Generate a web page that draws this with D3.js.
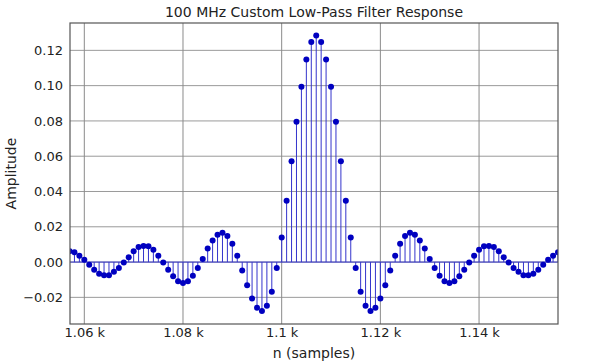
<!DOCTYPE html>
<html>
<head>
<meta charset="utf-8">
<script src="https://cdn.jsdelivr.net/npm/d3@7"></script>
<style>
  body { margin: 0; background: #fff; }
  svg text { font-family: "DejaVu Sans", sans-serif; fill: #222; }
</style>
</head>
<body>
<div id="chart"></div>
<script>
// sample index range and amplitudes
const nStart = 1057;
const amplitude = [
  0.0062, 0.0055, 0.0036, 0.0013, -0.0015, -0.0044, -0.0066, -0.0074, -0.0074, -0.0055,
  -0.0034, -0.0002, 0.0028, 0.0062, 0.0085, 0.0091, 0.0089, 0.0070, 0.0036, -0.0002,
  -0.0044, -0.0081, -0.0108, -0.0119, -0.0108, -0.0078, -0.0034, 0.0017, 0.0077, 0.0122,
  0.0155, 0.0166, 0.0148, 0.0104, 0.0036, -0.0048, -0.0132, -0.0206, -0.0259, -0.0278,
  -0.0248, -0.0168, -0.0034, 0.0139, 0.0347, 0.0572, 0.0795, 0.0993, 0.1148, 0.1248,
  0.1284, 0.1248, 0.1148, 0.0993, 0.0795, 0.0572, 0.0347, 0.0139, -0.0034, -0.0168,
  -0.0248, -0.0278, -0.0259, -0.0206, -0.0132, -0.0048, 0.0036, 0.0104, 0.0148, 0.0166,
  0.0155, 0.0122, 0.0077, 0.0017, -0.0034, -0.0078, -0.0108, -0.0119, -0.0108, -0.0081,
  -0.0044, -0.0002, 0.0036, 0.0070, 0.0089, 0.0091, 0.0085, 0.0062, 0.0028, -0.0002,
  -0.0034, -0.0055, -0.0074, -0.0074, -0.0066, -0.0044, -0.0015, 0.0013, 0.0036, 0.0055
];
const xTicks = [1060, 1080, 1100, 1120, 1140];
const xTickLabels = ['1.06 k', '1.08 k', '1.1 k', '1.12 k', '1.14 k'];
const yTicks = [-0.02, 0.00, 0.02, 0.04, 0.06, 0.08, 0.10, 0.12];

const data = amplitude.map((v, i) => ({ n: nStart + i, v: v }));

const width = 600;
const height = 362;
const margin = { top: 23, right: 42, bottom: 38, left: 70 };
const innerW = width - margin.left - margin.right;
const innerH = height - margin.top - margin.bottom;

const x = d3.scaleLinear().domain([1057.1, 1156]).range([0, innerW]);
const y = d3.scaleLinear().domain([-0.0351, 0.1355]).range([innerH, 0]);

const svg = d3.select('#chart')
  .append('svg')
  .attr('width', width)
  .attr('height', height);

svg.append('defs').append('clipPath')
  .attr('id', 'clip')
  .append('rect')
  .attr('width', innerW)
  .attr('height', innerH);

const g = svg.append('g')
  .attr('transform', `translate(${margin.left},${margin.top})`);

// grid
g.append('g')
  .selectAll('line')
  .data(yTicks)
  .enter()
  .append('line')
  .attr('x1', 0)
  .attr('x2', innerW)
  .attr('y1', d => y(d))
  .attr('y2', d => y(d))
  .attr('stroke', '#9a9a9a')
  .attr('stroke-width', 1);

g.append('g')
  .selectAll('line')
  .data(xTicks)
  .enter()
  .append('line')
  .attr('x1', d => x(d))
  .attr('x2', d => x(d))
  .attr('y1', 0)
  .attr('y2', innerH)
  .attr('stroke', '#8a8a8a')
  .attr('stroke-width', 1);

const plot = g.append('g').attr('clip-path', 'url(#clip)');

// stems
plot.selectAll('.stem')
  .data(data)
  .enter()
  .append('line')
  .attr('class', 'stem')
  .attr('x1', d => x(d.n))
  .attr('x2', d => x(d.n))
  .attr('y1', y(0))
  .attr('y2', d => y(d.v))
  .attr('stroke', '#3434cc')
  .attr('stroke-width', 1);

// baseline
plot.append('line')
  .attr('x1', 0)
  .attr('x2', innerW)
  .attr('y1', y(0))
  .attr('y2', y(0))
  .attr('stroke', '#3434cc')
  .attr('stroke-width', 1);

// markers
plot.selectAll('.dot')
  .data(data)
  .enter()
  .append('circle')
  .attr('class', 'dot')
  .attr('cx', d => x(d.n))
  .attr('cy', d => y(d.v))
  .attr('r', 3)
  .attr('fill', '#0000c0');

// axes
const xAxis = d3.axisBottom(x)
  .tickValues(xTicks)
  .tickFormat((d, i) => xTickLabels[i])
  .tickSize(0)
  .tickPadding(4);

const yAxis = d3.axisLeft(y)
  .tickValues(yTicks)
  .tickFormat(d => d3.format('.2f')(d).replace('-', '\u2212'))
  .tickSize(0)
  .tickPadding(7);

g.append('g')
  .attr('transform', `translate(0,${innerH})`)
  .call(xAxis)
  .call(s => s.select('.domain').remove())
  .selectAll('text')
  .style('font-size', '13px')
  .attr('fill', '#222');

g.append('g')
  .call(yAxis)
  .call(s => s.select('.domain').remove())
  .selectAll('text')
  .style('font-size', '13px')
  .attr('fill', '#222');

// frame
g.append('rect')
  .attr('width', innerW)
  .attr('height', innerH)
  .attr('fill', 'none')
  .attr('stroke', '#555')
  .attr('stroke-width', 1.2);

// title and axis labels
svg.append('text')
  .attr('x', margin.left + innerW / 2)
  .attr('y', 17)
  .attr('text-anchor', 'middle')
  .style('font-size', '14px')
  .text('100 MHz Custom Low-Pass Filter Response');

svg.append('text')
  .attr('x', margin.left + innerW / 2)
  .attr('y', 358)
  .attr('text-anchor', 'middle')
  .style('font-size', '14px')
  .text('n (samples)');

svg.append('text')
  .attr('transform', `translate(16,${margin.top + innerH / 2}) rotate(-90)`)
  .attr('text-anchor', 'middle')
  .style('font-size', '14px')
  .text('Amplitude');
</script>
</body>
</html>
